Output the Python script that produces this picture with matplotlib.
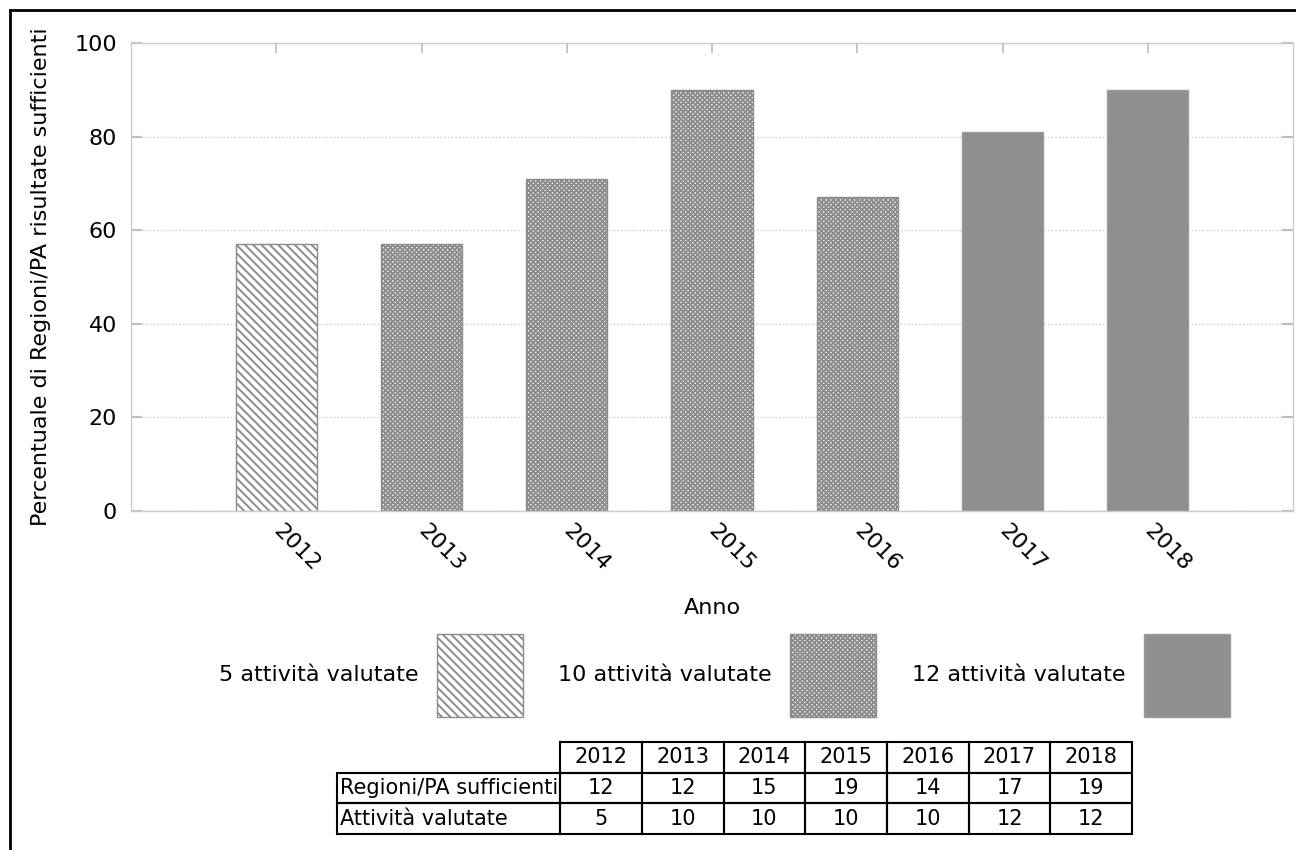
import matplotlib
matplotlib.use("Agg")
import matplotlib.pyplot as plt
from matplotlib.patches import Patch
from matplotlib.lines import Line2D

# dati
anni = ['2012', '2013', '2014', '2015', '2016', '2017', '2018']
percentuali = [57, 57, 71, 90, 67, 81, 90]
regioni_sufficienti = [12, 12, 15, 19, 14, 17, 19]
attivita_valutate = [5, 10, 10, 10, 10, 12, 12]

gruppi = [5, 10, 12]
etichette_gruppi = ['5 attività valutate', '10 attività valutate', '12 attività valutate']

plt.rcParams['font.family'] = ['DejaVu Sans']
plt.rcParams['font.size'] = 16
plt.rcParams['hatch.linewidth'] = 1.4

# stile delle barre per numero di attività
stili = {
    5: dict(facecolor='white', edgecolor='#8c8c8c', hatch='\\' * 4),
    10: dict(facecolor='white', edgecolor='#8c8c8c', hatch='x' * 7),
    12: dict(facecolor='#8f8f8f', edgecolor='#9a9a9a', hatch=None),
}

fig = plt.figure(figsize=(12.96, 8.5), dpi=100)
ax = fig.add_axes([131 / 1296, 1 - 511 / 850, 1162 / 1296, 468 / 850])

x = list(range(len(anni)))
for xi, p, a in zip(x, percentuali, attivita_valutate):
    ax.bar(xi, p, width=0.56, linewidth=1, zorder=2, **stili[a])

ax.set_xlim(-1, 7)
ax.set_ylim(0, 100)
ax.set_yticks([0, 20, 40, 60, 80, 100])
ax.set_xticks(x)
ax.set_xticklabels(anni, rotation=-45, ha='left', va='center', rotation_mode='anchor')
ax.tick_params(axis='x', direction='in', bottom=False, top=True, labelbottom=True,
               length=7, width=1.2, color='#bbbbbb', pad=12)
ax.tick_params(axis='y', direction='in', left=True, right=True,
               length=8, width=1.5, color='#bbbbbb', pad=10)
for s in ax.spines.values():
    s.set_color('#cccccc')
    s.set_linewidth(1)
ax.yaxis.grid(True, linestyle=':', color='#cccccc', linewidth=1)
ax.set_axisbelow(True)

ax.set_xlabel('Anno', labelpad=17)
ax.set_ylabel('Percentuale di Regioni/PA risultate sufficienti', labelpad=17)

# legenda sotto il grafico
handles = [Patch(linewidth=1, **stili[g]) for g in gruppi]
leg = fig.legend(handles, etichette_gruppi, loc='upper left',
                 bbox_to_anchor=(219 / 1296, 1 - 634 / 850), bbox_transform=fig.transFigure,
                 ncol=3, frameon=False, markerfirst=False, fontsize=16,
                 handlelength=3.87, handleheight=5.35, handletextpad=0.81,
                 columnspacing=1.62, borderpad=0, borderaxespad=0)

# tabella riassuntiva
ax_t = fig.add_axes([337 / 1296, 1 - 834 / 850, 795 / 1296, 92 / 850])
ax_t.axis('off')
celle = [[''] + anni,
         ['Regioni/PA sufficienti'] + [str(v) for v in regioni_sufficienti],
         ['Attività valutate'] + [str(v) for v in attivita_valutate]]
larghezze = [224] + [82] * len(anni)
tab = ax_t.table(cellText=celle, colWidths=larghezze, cellLoc='center', bbox=[0, 0, 1, 1])
tab.auto_set_font_size(False)
tab.set_fontsize(15)
for (r, c), cella in tab.get_celld().items():
    cella.set_linewidth(1.5)
    cella.set_edgecolor('black')
    cella.set_facecolor('none')
    if c == 0:
        cella.PAD = 0.015
        cella.get_text().set_horizontalalignment('left')
tab[(0, 0)].visible_edges = 'open'

# cornice esterna (solo lati superiore e sinistro)
fig.add_artist(Line2D([10 / 1296, 1], [1 - 10 / 850, 1 - 10 / 850], color='black', linewidth=2))
fig.add_artist(Line2D([10 / 1296, 10 / 1296], [0, 1 - 10 / 850], color='black', linewidth=2))

fig.savefig('out.png', dpi=100)
